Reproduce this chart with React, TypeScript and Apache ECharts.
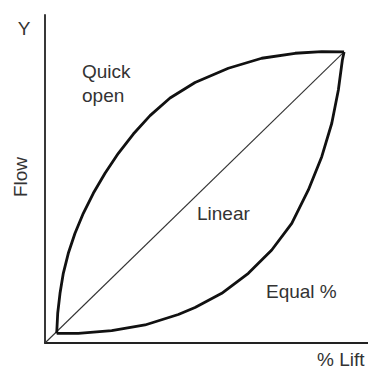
import React, { useEffect, useRef } from "react";
import * as echarts from "echarts";

const quickX = [3.91, 4.25, 5.02, 6.12, 7.79, 10.03, 12.81, 16.15, 20.07, 24.52, 29.53, 35.12, 41.81, 50.17, 61.3, 72.47, 83.61, 92.54, 100];
const quickY = [3.33, 10.21, 17.08, 23.95, 30.82, 37.7, 44.57, 51.44, 58.32, 65.19, 71.79, 78.11, 84.16, 89.52, 94.4, 97.84, 99.55, 100.1, 100];
const equalX = [3.91, 11.14, 22.31, 33.44, 44.58, 50.17, 59.1, 67.99, 75.82, 82.51, 88.06, 92.54, 95.89, 98.09, 99.43, 100];
const equalY = [3.33, 3.33, 4.23, 6.19, 9.79, 12.2, 17.08, 23.95, 31.96, 41.13, 52.58, 64.02, 75.5, 86.94, 97.25, 100];
const linearX = [0, 100];
const linearY = [0, 100];

const zip = (xs: number[], ys: number[]) => xs.map((x, i) => [x, ys[i]]);

export default function App() {
  const ref = useRef<HTMLDivElement>(null);
  useEffect(() => {
    if (!ref.current) return;
    const chart = echarts.init(ref.current, undefined, { renderer: "svg" });
    const font = "Liberation Sans, Arial, sans-serif";
    const txt = (text: string, x: number, y: number, align: string = "left", rotation = 0) => ({
      type: "text",
      x,
      y,
      rotation,
      style: {
        text,
        fill: "#333",
        font: `19px ${font}`,
        align,
        verticalAlign: "middle",
      },
    });
    chart.setOption({
      animation: false,
      grid: { left: 45, top: 15, right: 0, bottom: 28 },
      xAxis: {
        type: "value",
        min: 0,
        max: 108,
        axisLine: { show: true, onZero: false, lineStyle: { color: "#222", width: 1.8 } },
        axisTick: { show: false },
        axisLabel: { show: false },
        splitLine: { show: false },
      },
      yAxis: {
        type: "value",
        min: 0,
        max: 112.7,
        axisLine: { show: true, onZero: false, lineStyle: { color: "#222", width: 1.8 } },
        axisTick: { show: false },
        axisLabel: { show: false },
        splitLine: { show: false },
      },
      series: [
        {
          type: "line",
          data: zip(linearX, linearY),
          showSymbol: false,
          lineStyle: { color: "#333", width: 1.1 },
        },
        {
          type: "line",
          data: zip(quickX, quickY),
          smooth: false,
          showSymbol: false,
          lineStyle: { color: "#111", width: 2.8, join: "round" },
        },
        {
          type: "line",
          data: zip(equalX, equalY),
          smooth: false,
          showSymbol: false,
          lineStyle: { color: "#111", width: 2.8, join: "round" },
        },
      ],
      graphic: [
        txt("Y", 24, 28.4, "center"),
        txt("Quick", 82, 71.4),
        txt("open", 82, 95.4),
        txt("Linear", 197, 213.4),
        txt("Equal %", 266, 291.4),
        txt("% Lift", 317, 359.5),
        txt("Flow", 20.4, 177, "center", Math.PI / 2),
      ],
    });
    return () => chart.dispose();
  }, []);
  return <div ref={ref} style={{ width: 368, height: 371, position: "absolute", left: 0, top: 0 }} />;
}
